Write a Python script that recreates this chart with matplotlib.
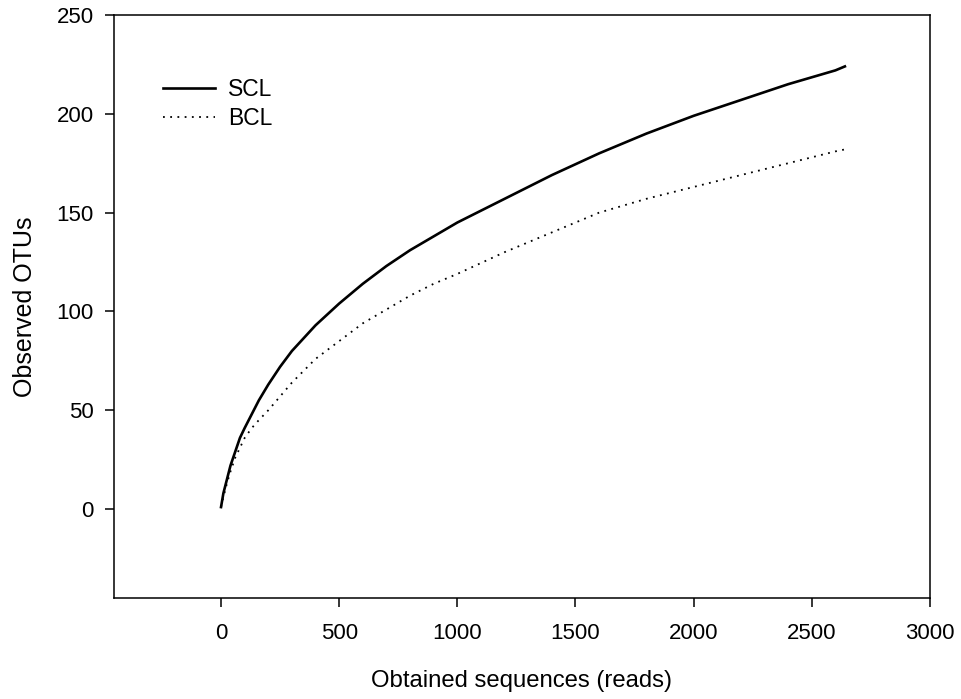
import matplotlib
matplotlib.use("Agg")
import matplotlib.pyplot as plt

plt.rcParams['font.family'] = ['Liberation Sans', 'DejaVu Sans']

reads = [0, 10, 25, 40, 60, 80, 100, 130, 160, 200, 250, 300, 400, 500, 600,
         700, 800, 900, 1000, 1200, 1400, 1600, 1800, 2000, 2200, 2400, 2600, 2640]
scl = [1, 8, 15, 22, 29, 36, 41, 48, 55, 63, 72, 80, 93, 104, 114,
       123, 131, 138, 145, 157, 169, 180, 190, 199, 207, 215, 222, 224]
bcl = [1, 6, 13, 19, 26, 31, 36, 41, 45, 50, 57, 64, 76, 85, 94,
       101, 108, 114, 119, 130, 140, 150, 157, 163, 169, 175, 181, 182]

xticks = [0, 500, 1000, 1500, 2000, 2500, 3000]
yticks = [0, 50, 100, 150, 200, 250]

fig = plt.figure(figsize=(9.61, 6.99), dpi=100)
ax = fig.add_axes([0.1186, 0.1445, 0.9677 - 0.1186, 0.9785 - 0.1445])

ax.plot(reads, scl, color='black', lw=1.9, label='SCL')
ax.plot(reads, bcl, color='black', lw=1.3, linestyle=(0, (1, 3)), label='BCL')

ax.set_xlim(-453, 3000)
ax.set_ylim(-45, 250)
ax.set_xticks(xticks)
ax.set_yticks(yticks)
ax.tick_params(axis='both', direction='out', length=6.5, width=1.1,
               labelsize=16, top=False, right=False)
ax.tick_params(axis='y', pad=8)
ax.tick_params(axis='x', pad=11.5)
for s in ax.spines.values():
    s.set_linewidth(1.1)

ax.set_xlabel('Obtained sequences (reads)', fontsize=17.2, labelpad=19)
ax.set_ylabel('Observed OTUs', fontsize=18, labelpad=14)

leg = ax.legend(loc='upper left', bbox_to_anchor=(0.060, 0.892), frameon=False,
                fontsize=16.5, handlelength=2.27, handletextpad=0.57,
                labelspacing=0.25, borderaxespad=0, borderpad=0)

fig.savefig('out.png', dpi=100)
